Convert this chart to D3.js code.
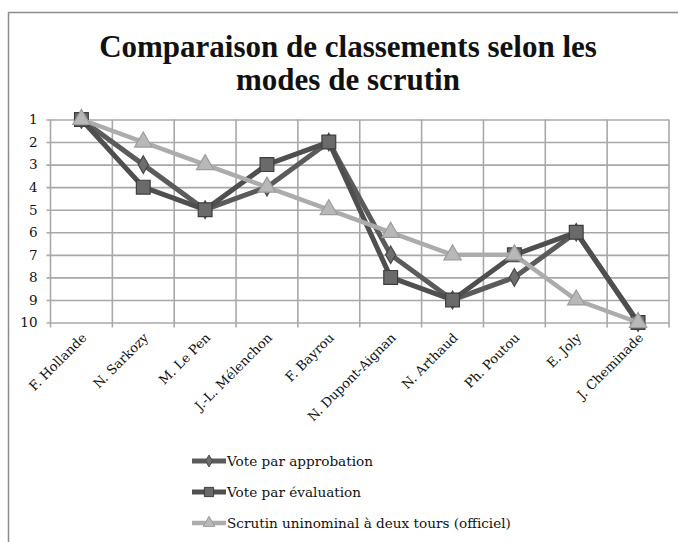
<!DOCTYPE html>
<html><head><meta charset="utf-8">
<script src="https://cdn.jsdelivr.net/npm/d3@7"></script>
<style>body{margin:0;background:#fff}svg{display:block}</style>
</head><body>
<script>
const categories = ["F. Hollande","N. Sarkozy","M. Le Pen","J.-L. Mélenchon","F. Bayrou","N. Dupont-Aignan","N. Arthaud","Ph. Poutou","E. Joly","J. Cheminade"];
const approbation = [1,3,5,4,2,7,9,8,6,10];
const evaluation = [1,4,5,3,2,8,9,7,6,10];
const officiel = [1,2,3,4,5,6,7,7,9,10];
const yTicks = [1,2,3,4,5,6,7,8,9,10];
const seriesNames = ["Vote par approbation","Vote par évaluation","Scrutin uninominal à deux tours (officiel)"];
const titleLines = ["Comparaison de classements selon les","modes de scrutin"];

const W=678,H=542;
const svg=d3.select("body").append("svg").attr("width",W).attr("height",H);
const serif="'DejaVu Serif','Liberation Serif',serif";

// frame
svg.append("path").attr("d",`M8.5,${H+5} V12.5 H${W+5}`).attr("fill","none").attr("stroke","#8c8c8c").attr("stroke-width",1.5);

// title
svg.selectAll("text.title").data(titleLines).join("text").attr("class","title")
  .attr("x",348).attr("y",(d,i)=>57+i*33).attr("text-anchor","middle")
  .attr("font-family","'Liberation Serif','Times New Roman',serif").attr("font-weight","bold").attr("font-size",31).attr("fill","#111")
  .text(d=>d);

const x=d3.scaleBand().domain(categories).range([50.5,669]);
const y=d3.scaleLinear().domain([1,10]).range([119.5,322.5]);

const grid="#a8a8a8";
// horizontal gridlines via axis
const yAxis=svg.append("g").attr("transform","translate(50.5,0)")
  .call(d3.axisLeft(y).tickValues(yTicks).tickSize(5).tickSizeInner(-(669-50.5)).tickPadding(10));
yAxis.select(".domain").remove();
yAxis.selectAll(".tick line").attr("stroke",grid).attr("stroke-width",1.6).attr("x1",-4);
yAxis.selectAll(".tick text").attr("font-family",serif).attr("font-size",13.5).attr("fill","#111").attr("x",-13);

// vertical gridlines at band boundaries
const bounds=categories.map(c=>x(c)).concat([x.range()[1]]);
svg.append("g").selectAll("line").data(bounds).join("line")
  .attr("x1",d=>d).attr("x2",d=>d).attr("y1",y(1)).attr("y2",y(10)+5)
  .attr("stroke",grid).attr("stroke-width",1.6);

// x labels
const xAxis=svg.append("g").attr("transform",`translate(0,${y(10)})`)
  .call(d3.axisBottom(x).tickSize(0).tickPadding(0));
xAxis.select(".domain").remove();
xAxis.selectAll(".tick text")
  .attr("font-family",serif).attr("font-size",13).attr("fill","#111")
  .attr("text-anchor","end").attr("dy",0).attr("y",0)
  .attr("transform","translate(6,16) rotate(-45)");

const cx=d=>x(d)+x.bandwidth()/2;
const line=d3.line().x(d=>cx(d.c)).y(d=>y(d.v));
const mk=arr=>categories.map((c,i)=>({c,v:arr[i]}));

const series=[
 {name:seriesNames[0],data:mk(approbation),stroke:"#5b5b5b",w:5,marker:"diamond",fill:"#6e6e6e",mstroke:"#4a4a4a",size:90},
 {name:seriesNames[1],data:mk(evaluation),stroke:"#4f4f4f",w:5,marker:"square",fill:"#6a6a6a",mstroke:"#3e3e3e",size:190},
 {name:seriesNames[2],data:mk(officiel),stroke:"#acacac",w:4.5,marker:"triangle",fill:"#b8b8b8",mstroke:"#9c9c9c",size:130}
];
const sym={diamond:d3.symbolDiamond,square:d3.symbolSquare,triangle:d3.symbolTriangle};

series.forEach(s=>{
  const g=svg.append("g");
  g.append("path").datum(s.data).attr("d",line).attr("fill","none")
   .attr("stroke",s.stroke).attr("stroke-width",s.w).attr("stroke-linejoin","round");
  g.selectAll("path.m").data(s.data).join("path").attr("class","m")
   .attr("transform",d=>`translate(${cx(d.c)},${y(d.v)})`)
   .attr("d",d3.symbol().type(sym[s.marker]).size(s.size))
   .attr("fill",s.fill).attr("stroke",s.mstroke).attr("stroke-width",1.2);
});

// legend
const lg=svg.append("g");
const ly=[461,492,523];
series.forEach((s,i)=>{
  lg.append("line").attr("x1",192).attr("x2",226).attr("y1",ly[i]).attr("y2",ly[i])
    .attr("stroke",s.stroke).attr("stroke-width",s.w);
  lg.append("path").attr("transform",`translate(209,${ly[i]})`)
    .attr("d",d3.symbol().type(sym[s.marker]).size(s.size*0.45))
    .attr("fill",s.fill).attr("stroke",s.mstroke).attr("stroke-width",1);
  lg.append("text").attr("x",227).attr("y",ly[i]).attr("dy","0.35em")
    .attr("font-family",serif).attr("font-size",13.6).attr("fill","#111").text(s.name);
});
</script>
</body></html>
